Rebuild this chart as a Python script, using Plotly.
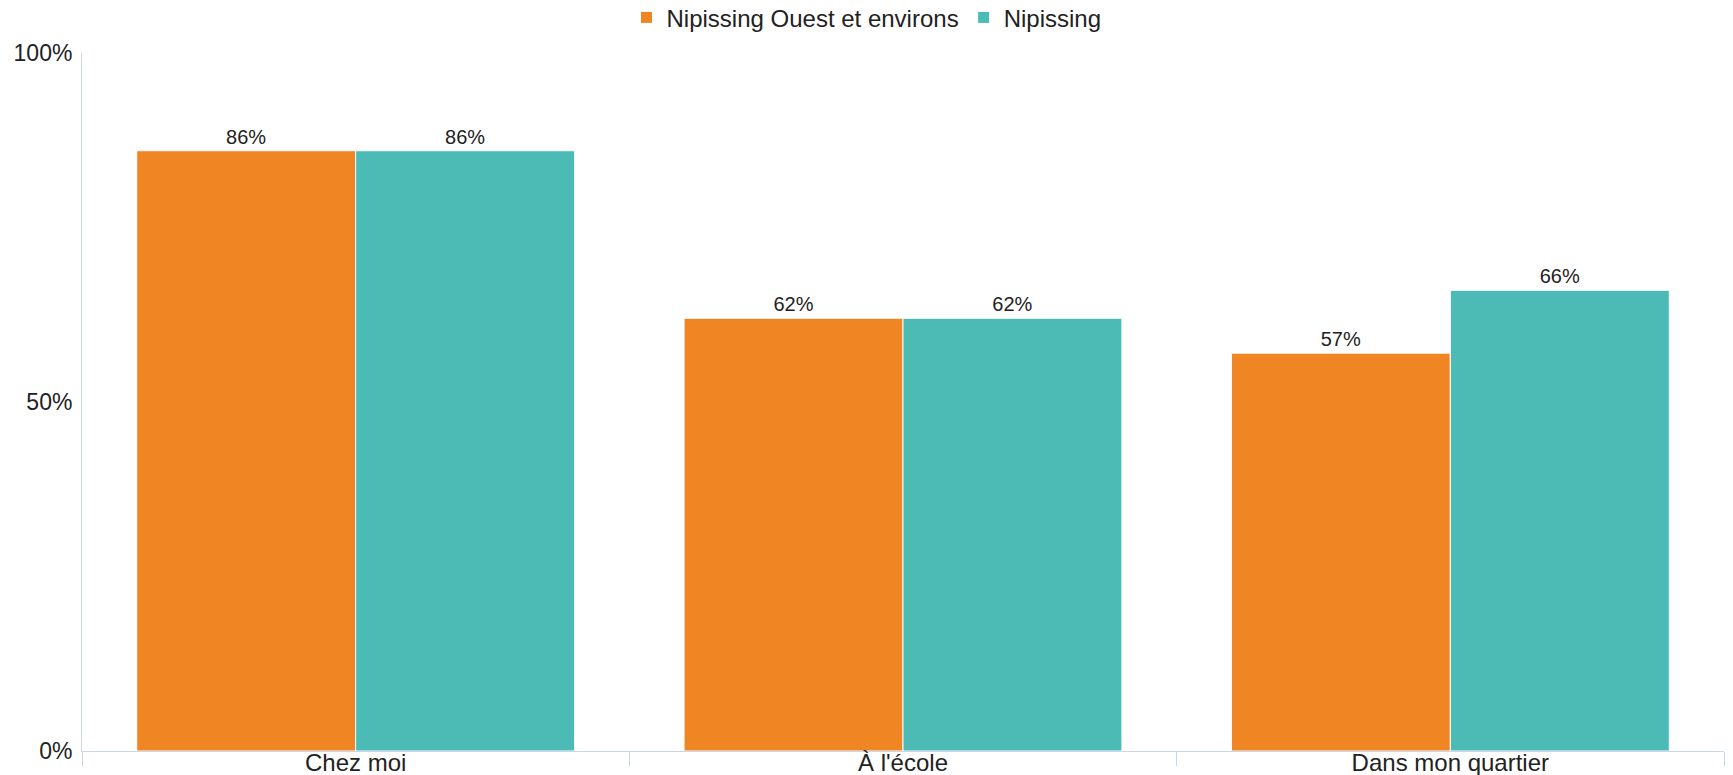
import plotly.graph_objects as go

categories = ["Chez moi", "À l'école", "Dans mon quartier"]
series_names = ["Nipissing Ouest et environs", "Nipissing"]
ouest_values = [86, 62, 57]
nipissing_values = [86, 62, 66]
colors = ["#F08623", "#4CBBB6"]
y_ticks = [0, 50, 100]
y_tick_labels = ["0%", "50%", "100%"]

FONT = "Liberation Sans, Arial, sans-serif"

fig = go.Figure()
for name, vals, col in zip(series_names, [ouest_values, nipissing_values], colors):
    fig.add_trace(go.Bar(
        name=name,
        x=categories,
        y=vals,
        marker=dict(color=col, line=dict(color="white", width=1)),
        text=[f"{v}%" for v in vals],
        textposition="outside",
        textfont=dict(family=FONT, size=20, color="#222"),
        cliponaxis=False,
    ))

fig.update_layout(
    width=1733, height=775,
    barmode="group",
    bargap=0.2,
    bargroupgap=0,
    plot_bgcolor="white",
    paper_bgcolor="white",
    margin=dict(l=82, r=9, t=53, b=24, autoexpand=False),
    font=dict(family=FONT, size=23, color="#222"),
    legend=dict(
        orientation="h",
        x=0.5, xanchor="center", xref="container",
        y=0.977, yanchor="middle", yref="container",
        font=dict(family=FONT, size=24, color="#222"),
        itemclick=False,
        traceorder="normal",
    ),
    showlegend=True,
)

fig.update_xaxes(
    showline=True, linecolor="#ccd6eb", linewidth=1,
    ticks="outside", tickson="boundaries", ticklen=14, tickcolor="#ccd6eb",
    tickfont=dict(family=FONT, size=24, color="#222"),
    ticklabelstandoff=-10,
    showgrid=False, automargin=False,
)
fig.update_yaxes(
    range=[0, 100],
    tickvals=y_ticks, ticktext=y_tick_labels,
    showline=True, linecolor="#ccd6eb", linewidth=1,
    showgrid=False, zeroline=False,
    ticks="", ticklabelstandoff=4,
    tickfont=dict(family=FONT, size=23, color="#222"),
    automargin=False,
)

fig.write_html(
    "out.html",
    config={"displayModeBar": False},
    post_script="document.body.style.margin='0';document.body.style.overflow='hidden';",
)
